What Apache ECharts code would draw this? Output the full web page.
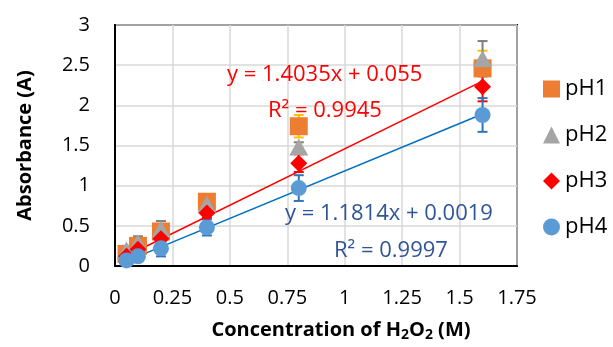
<!DOCTYPE html>
<html>
<head>
<meta charset="utf-8">
<script src="https://cdn.jsdelivr.net/npm/echarts@6/dist/echarts.min.js"></script>
<style>html,body{margin:0;padding:0;background:#fff}#c{width:613px;height:347px}</style>
</head>
<body>
<div id="c"></div>
<script>
var concentrations = [0.05, 0.1, 0.2, 0.4, 0.8, 1.6];
var pH1 = [0.15, 0.25, 0.43, 0.80, 1.74, 2.46];
var pH2 = [0.20, 0.29, 0.46, 0.77, 1.48, 2.58];
var pH3 = [0.12, 0.21, 0.34, 0.66, 1.28, 2.23];
var pH4 = [0.07, 0.12, 0.22, 0.48, 0.97, 1.88];
var err1 = [0.05, 0.05, 0.06, 0.08, 0.14, 0.22];
var err2 = [0.05, 0.08, 0.10, 0.06, 0.06, 0.22];
var err3 = [0.04, 0.05, 0.05, 0.06, 0.11, 0.18];
var err4 = [0.04, 0.05, 0.10, 0.10, 0.16, 0.21];
var trend3 = [[0.05, 0.125], [1.6, 2.301]];
var trend4 = [[0.05, 0.061], [1.6, 1.892]];
var seriesNames = ['pH1', 'pH2', 'pH3', 'pH4'];
var xTicks = [0, 0.25, 0.5, 0.75, 1, 1.25, 1.5, 1.75];
var yTicks = [0, 0.5, 1, 1.5, 2, 2.5, 3];

var font = '"Open Sans", sans-serif';
function pts(vals){ return concentrations.map(function(x,i){ return [x, vals[i]]; }); }
function errData(vals, errs){ return concentrations.map(function(x,i){ return [x, vals[i]-errs[i], vals[i]+errs[i]]; }); }
function errSeries(vals, errs, color){
  return {
    type: 'custom', silent: true, z: 3,
    data: errData(vals, errs),
    renderItem: function(params, api){
      var x = api.value(0);
      var lo = api.coord([x, api.value(1)]);
      var hi = api.coord([x, api.value(2)]);
      var w = 5;
      var st = {stroke: color, lineWidth: 2};
      return {type: 'group', children: [
        {type: 'line', shape: {x1: lo[0], y1: lo[1], x2: hi[0], y2: hi[1]}, style: st},
        {type: 'line', shape: {x1: lo[0]-w, y1: lo[1], x2: lo[0]+w, y2: lo[1]}, style: st},
        {type: 'line', shape: {x1: hi[0]-w, y1: hi[1], x2: hi[0]+w, y2: hi[1]}, style: st}
      ]};
    }
  };
}
var colors = ['#ED7D31', '#A5A5A5', '#FF0000', '#5B9BD5'];
var errColors = ['#FFC000', '#7F7F7F', '#FF0000', '#2E75B6'];
var symbols = ['rect', 'triangle', 'diamond', 'circle'];
var sizes = [[18,18], [19,17], [17,17], [16,16]];
var vals = [pH1, pH2, pH3, pH4];
var errs = [err1, err2, err3, err4];

var series = [];
for (var i = 0; i < 4; i++) series.push(errSeries(vals[i], errs[i], errColors[i]));
series.push({type:'line', data: trend3, symbol:'none', lineStyle:{color:'#FF0000', width:1.5}, z:4, silent:true});
series.push({type:'line', data: trend4, symbol:'none', lineStyle:{color:'#0070C0', width:1.5}, z:4, silent:true});
for (var j = 0; j < 4; j++) {
  series.push({name: seriesNames[j], type:'scatter', data: pts(vals[j]), symbol: symbols[j], symbolSize: sizes[j],
    itemStyle:{color: colors[j], opacity:1}, z: 5 + j});
}

var chart = echarts.init(document.getElementById('c'), null, {renderer:'canvas'});
chart.setOption({
  animation: false,
  grid: {left: 115, right: 96, top: 25, bottom: 80, show: true, borderColor: '#000', borderWidth: 2, backgroundColor: 'transparent'},
  xAxis: {type:'value', min: xTicks[0], max: xTicks[xTicks.length-1], interval: 0.25,
    axisLine:{show:true, lineStyle:{color:'#000', width:2}}, axisTick:{show:false},
    splitLine:{show:true, lineStyle:{color:'#D9D9D9', width:1.5}},
    axisLabel:{color:'#000', fontSize:20, fontFamily: font, margin: 22},
    name: '{t|Concentration of H}{s|2}{t|O}{s|2}{t| (M)}', nameLocation:'middle', nameGap: 52,
    nameTextStyle:{padding:[0,0,0,50], rich:{t:{fontSize:20, fontWeight:'bold', fontFamily: font, color:'#000'}, s:{fontSize:14, fontWeight:'bold', fontFamily: font, color:'#000', padding:[10,0,0,0]}}}
  },
  yAxis: {type:'value', min: yTicks[0], max: yTicks[yTicks.length-1], interval: 0.5,
    axisLine:{show:true, lineStyle:{color:'#000', width:2}}, axisTick:{show:false},
    splitLine:{show:true, lineStyle:{color:'#D9D9D9', width:1.5}},
    axisLabel:{color:'#000', fontSize:20, fontFamily: font, margin: 25},
    name: 'Absorbance (A)', nameLocation:'middle', nameGap: 80, nameRotate: 90,
    nameTextStyle:{fontSize:20, fontWeight:'bold', fontFamily: font, color:'#000'}
  },
  legend: {orient:'vertical', left: 538, top: 73, itemGap: 24, itemWidth: 17, itemHeight: 17,
    data: seriesNames, textStyle:{fontSize:22, fontFamily: font, color:'#000', lineHeight: 22}, selectedMode: false},
  graphic: [
    {type:'text', left: 227, top: 64, z: 20, style:{text:'y = 1.4035x + 0.055', fill:'#FF0000', font:'22px "Open Sans", sans-serif'}},
    {type:'text', left: 268, top: 100, z: 20, style:{text:'R² = 0.9945', fill:'#FF0000', font:'22px "Open Sans", sans-serif'}},
    {type:'text', left: 285, top: 203, z: 20, style:{text:'y = 1.1814x + 0.0019', fill:'#2F5597', font:'22px "Open Sans", sans-serif'}},
    {type:'text', left: 334, top: 240, z: 20, style:{text:'R² = 0.9997', fill:'#2F5597', font:'22px "Open Sans", sans-serif'}}
  ],
  series: series
});
</script>
</body>
</html>
